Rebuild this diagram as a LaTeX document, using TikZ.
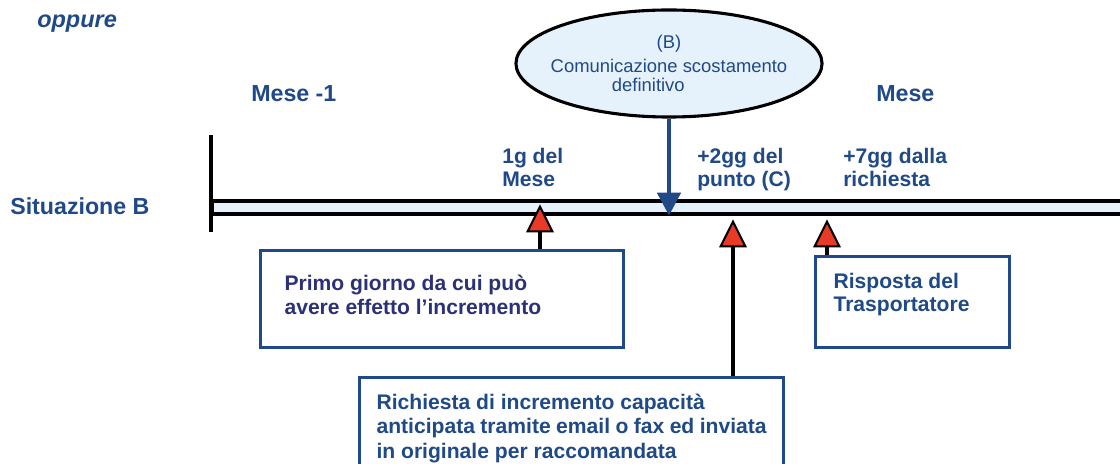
\documentclass[tikz,border=0pt]{standalone}
\usepackage{fontspec}
\setmainfont{Liberation Sans}
\usetikzlibrary{shapes.geometric,arrows.meta,positioning}
\definecolor{txtblue}{RGB}{31,73,135}
\definecolor{inkblue}{RGB}{44,48,118}
\definecolor{paleblue}{RGB}{230,242,251}
\definecolor{markred}{RGB}{232,58,38}

\begin{document}
\begin{tikzpicture}[x=0.025cm,y=-0.025cm,
  lbl/.style={inner sep=0,anchor=north west,align=left,text=txtblue,font=\fontsize{15}{16.3}\selectfont\bfseries},
  big/.style={lbl,font=\fontsize{16.5}{18}\selectfont\bfseries},
  infobox/.style={draw=txtblue,line width=2.2pt,anchor=north west,text=txtblue,font=\fontsize{15}{17.7}\selectfont\bfseries},
  tri/.style={isosceles triangle,isosceles triangle stretches,shape border rotate=90,draw=black,fill=markred,line width=1.4pt,
    minimum width=0.62cm,minimum height=0.62cm,inner sep=0,anchor=apex},
  stem/.style={line width=2.2pt,black},
  bar/.style={draw=black,fill=paleblue,line width=2.3pt,minimum width=23.5cm,minimum height=0.325cm,inner sep=0,anchor=west},
  ell/.style={ellipse,draw=black,fill=paleblue,line width=2.2pt,minimum width=7.65cm,minimum height=2.675cm,inner sep=0},
  comarrow/.style={-{Triangle[width=0.575cm,length=0.575cm]},line width=3.5pt,txtblue}]
  \useasboundingbox (0,0) rectangle (1120,464);
  \node[big,font=\fontsize{16.7}{18}\selectfont\bfseries\itshape] (alt) at (37,15) {oppure};
  \node[big] (prev) at (251,85) {Mese -1};
  \node[big] (curr) at (876,85) {Mese};
  \node[big] (sit) at (10,197) {Situazione B};
  \node[bar] (bar) at (211,207.5) {};
  \draw[line width=3.2pt] (211,135) -- (211,232);
  \node[ell,label={[align=center,text=txtblue,font=\fontsize{13.1}{13.5}\selectfont]center:(B)\\[3pt]Comunicazione scostamento\\\makebox[2.85cm][l]{definitivo}}] (comm) at (669,63.5) {};
  \draw[comarrow] (comm.south) -- (comm.south |- bar.south);
  \node[lbl] (d1) at (502,148) {1g del\\Mese};
  \node[lbl] (d2) at (697,148) {+2gg del\\punto (C)};
  \node[lbl] (d3) at (843,148) {+7gg dalla\\richiesta};
  \node[tri] (t1) at (540,204) {};
  \node[tri] (t2) at (733,219) {};
  \node[tri] (t3) at (827,219) {};
  \node[infobox,text=inkblue,inner xsep=0.6cm,inner ysep=0.6cm] (first) at (259,249)
    {\parbox[t][1.225cm][t]{7.875cm}{Primo giorno da cui può\\avere effetto l’incremento}};
  \node[infobox,font=\fontsize{15}{16.3}\selectfont\bfseries,inner xsep=0.45cm,inner ysep=0.425cm] (reply) at (814,255)
    {\parbox[t][1.425cm][t]{3.95cm}{Risposta del\\Trasportatore}};
  \node[infobox,inner xsep=0.425cm,inner ysep=0.4cm] (req) at (358,376)
    {\parbox[t][2.2cm][t]{9.75cm}{Richiesta di incremento capacità\\anticipata tramite email o fax ed inviata\\in originale per raccomandata}};
  \draw[stem] (t1.lower side) -- (t1.lower side |- first.north);
  \draw[stem] (t2.lower side) -- (t2.lower side |- req.north);
  \draw[stem] (t3.lower side) -- (t3.lower side |- reply.north);
\end{tikzpicture}
\end{document}
